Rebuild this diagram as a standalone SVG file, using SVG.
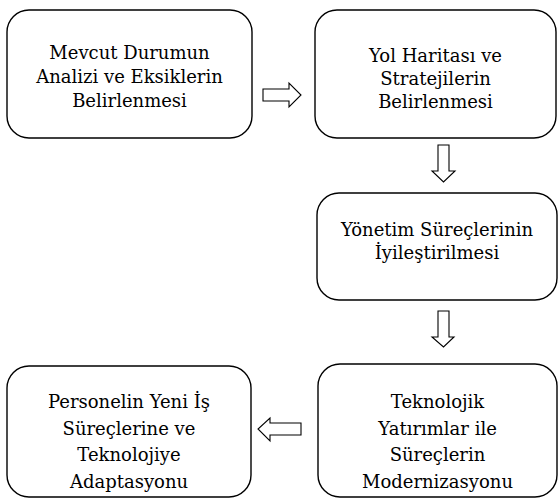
<svg xmlns="http://www.w3.org/2000/svg" width="558" height="498" viewBox="0 0 558 498">
<style>
.box{fill:#fff;stroke:#000;stroke-width:1.4}
.arr{fill:#fff;stroke:#000;stroke-width:1.1;stroke-linejoin:miter}
text{font-family:"DejaVu Serif",serif;font-size:18px;fill:#000;text-anchor:middle}
</style>
<rect width="558" height="498" fill="#fff"/>
<g id="n1">
<rect class="box" x="7" y="10" width="245" height="128" rx="22"/>
<text x="129.5" y="59">Mevcut Durumun</text>
<text x="129.5" y="83">Analizi ve Eksiklerin</text>
<text x="129.5" y="107">Belirlenmesi</text>
</g>
<g id="n2">
<rect class="box" x="315" y="10" width="241" height="128" rx="22"/>
<text x="435.5" y="62">Yol Haritası ve</text>
<text x="435.5" y="85">Stratejilerin</text>
<text x="435.5" y="108">Belirlenmesi</text>
</g>
<g id="n3">
<rect class="box" x="317" y="193" width="240" height="107" rx="22"/>
<text x="437" y="236">Yönetim Süreçlerinin</text>
<text x="437" y="259">İyileştirilmesi</text>
</g>
<g id="n4">
<rect class="box" x="318" y="364" width="239" height="133" rx="22"/>
<text x="437.5" y="408">Teknolojik</text>
<text x="437.5" y="434.5">Yatırımlar ile</text>
<text x="437.5" y="461">Süreçlerin</text>
<text x="437.5" y="487.5">Modernizasyonu</text>
</g>
<g id="n5">
<rect class="box" x="7" y="366" width="244" height="131" rx="22"/>
<text x="129" y="408">Personelin Yeni İş</text>
<text x="129" y="434.5">Süreçlerine ve</text>
<text x="129" y="461">Teknolojiye</text>
<text x="129" y="487.5">Adaptasyonu</text>
</g>
<g id="connectors">
<polygon class="arr" points="263,89 289,89 289,83 301,95 289,107 289,101 263,101"/>
<polygon class="arr" points="438,145 449,145 449,171 455,171 443.5,182 432,171 438,171"/>
<polygon class="arr" points="438,311 449,311 449,337 454,337 443.5,347 432,337 438,337"/>
<polygon class="arr" points="301,423 270,423 270,418 258,429 270,441 270,435 301,435"/>
</g>
</svg>
